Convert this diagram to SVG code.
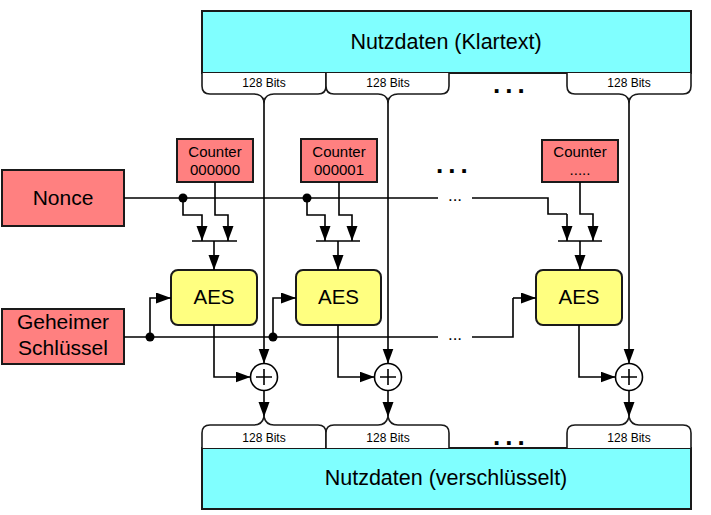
<svg xmlns="http://www.w3.org/2000/svg" width="711" height="515" viewBox="0 0 711 515">
<defs>
<marker id="ah" markerUnits="userSpaceOnUse" markerWidth="16" markerHeight="12" refX="15" refY="5.5" orient="auto">
<path d="M0,0 L15,5.5 L0,11 z" fill="#000"/>
</marker>
<style>
text{font-family:"Liberation Sans",Arial,sans-serif;fill:#000}
.box{stroke:#1a1a1a;stroke-width:2}
.cyan{fill:#80ffff}
.red{fill:#ff8080}
.yel{fill:#ffff80}
.brace{fill:#fff;stroke:#1a1a1a;stroke-width:1.6}
.ln{fill:none;stroke:#000;stroke-width:1.6}
.ar{fill:none;stroke:#000;stroke-width:1.6;marker-end:url(#ah)}
.bits{font-size:12px;text-anchor:middle}
.big{font-size:26px;font-weight:bold;letter-spacing:5px}
.sm{font-size:15px}
.c{text-anchor:middle}
</style>
</defs>

<g id="plaintext">
<rect class="box cyan" x="202" y="11" width="489" height="62"/>
<text x="446" y="49" font-size="21.5" class="c">Nutzdaten (Klartext)</text>
</g>
<g id="plain-bits">
<path class="brace" d="M202,73 V86 Q202,94 210,94 H254 Q262,94 264,101 Q266,94 274,94 H318 Q326,94 326,86 V73"/>
<path class="brace" d="M326,73 V86 Q326,94 334,94 H378 Q386,94 388,101 Q390,94 398,94 H441 Q449,94 449,86 V73"/>
<path class="brace" d="M567,73 V86 Q567,94 575,94 H619 Q627,94 629,101 Q631,94 639,94 H683 Q691,94 691,86 V73"/>
<text class="bits" x="264" y="87">128 Bits</text>
<text class="bits" x="388" y="87">128 Bits</text>
<text class="bits" x="629" y="87">128 Bits</text>
<text class="big" x="493" y="93">...</text>
</g>

<g id="ciphertext">
<rect class="box cyan" x="202" y="448" width="489" height="61"/>
<text x="446" y="485" font-size="21.5" class="c">Nutzdaten (verschlüsselt)</text>
</g>
<g id="cipher-bits">
<path class="brace" d="M202,448 V433 Q202,425 210,425 H254 Q262,425 264,417 Q266,425 274,425 H318 Q326,425 326,433 V448"/>
<path class="brace" d="M326,448 V433 Q326,425 334,425 H378 Q386,425 388,417 Q390,425 398,425 H441 Q449,425 449,433 V448"/>
<path class="brace" d="M567,448 V433 Q567,425 575,425 H619 Q627,425 629,417 Q631,425 639,425 H683 Q691,425 691,433 V448"/>
<text class="bits" x="264" y="442">128 Bits</text>
<text class="bits" x="388" y="442">128 Bits</text>
<text class="bits" x="629" y="442">128 Bits</text>
<text class="big" x="493" y="445">...</text>
</g>

<g id="nonce">
<rect class="box red" x="2" y="170" width="122" height="56"/>
<text x="63" y="205" font-size="21" class="c">Nonce</text>
</g>
<g id="key">
<rect class="box red" x="2" y="309" width="122" height="55"/>
<text x="63" y="329" font-size="21" class="c">Geheimer</text>
<text x="63" y="355" font-size="21" class="c">Schlüssel</text>
</g>

<g id="counter0">
<rect class="box red" x="177" y="139" width="76" height="43"/>
<text x="215" y="157" class="sm c">Counter</text>
<text x="215" y="175" class="sm c">000000</text>
</g>
<g id="counter1">
<rect class="box red" x="301" y="139" width="76" height="43"/>
<text x="339" y="157" class="sm c">Counter</text>
<text x="339" y="175" class="sm c">000001</text>
</g>
<g id="counterN">
<rect class="box red" x="542" y="140" width="76" height="42"/>
<text x="580" y="157" class="sm c">Counter</text>
<text x="580" y="175" class="sm c">.....</text>
</g>
<text class="big" x="436" y="173">...</text>

<g id="aes0">
<rect class="box yel" x="171" y="270" width="86" height="55" rx="7"/>
<text x="214" y="304" font-size="20.5" class="c">AES</text>
</g>
<g id="aes1">
<rect class="box yel" x="296" y="270" width="85" height="55" rx="7"/>
<text x="338.5" y="304" font-size="20.5" class="c">AES</text>
</g>
<g id="aesN">
<rect class="box yel" x="536" y="270" width="86" height="55" rx="7"/>
<text x="579" y="304" font-size="20.5" class="c">AES</text>
</g>

<g id="xor0">
<circle cx="264" cy="377" r="13.5" fill="#fff" stroke="#000" stroke-width="1.6"/>
<path class="ln" d="M256,377 H272 M264,369 V385" stroke-width="2.2"/>
</g>
<g id="xor1">
<circle cx="388" cy="377" r="13.5" fill="#fff" stroke="#000" stroke-width="1.6"/>
<path class="ln" d="M380,377 H396 M388,369 V385" stroke-width="2.2"/>
</g>
<g id="xorN">
<circle cx="629" cy="377" r="13.5" fill="#fff" stroke="#000" stroke-width="1.6"/>
<path class="ln" d="M621,377 H637 M629,369 V385" stroke-width="2.2"/>
</g>

<g id="connectors">
<path class="ln" d="M124,198 H438 M472,198 H548 V214 H567"/>
<text x="455" y="201" font-size="17" class="c">...</text>
<circle cx="183" cy="198" r="4.5"/>
<circle cx="307" cy="198" r="4.5"/>
<path class="ln" d="M124,337 H438 M472,337 H513 V298"/>
<text x="455" y="340" font-size="17" class="c">...</text>
<circle cx="150" cy="337" r="4.5"/>
<circle cx="273" cy="337" r="4.5"/>

<path class="ar" d="M183,198 V215 H202 V241"/>
<path class="ar" d="M215,182 V215 H228 V241"/>
<path class="ln" d="M192,241 H237"/>
<path class="ar" d="M214,241 V270"/>
<path class="ar" d="M150,337 V298 H171"/>
<path class="ar" d="M214,325 V377 H250.5"/>
<path class="ar" d="M264,101 V363.5"/>
<path class="ar" d="M264,390.5 V417"/>

<path class="ar" d="M307,198 V215 H325 V241"/>
<path class="ar" d="M339,182 V215 H352 V241"/>
<path class="ln" d="M316,241 H360"/>
<path class="ar" d="M338,241 V270"/>
<path class="ar" d="M273,337 V298 H296"/>
<path class="ar" d="M338,325 V377 H374.5"/>
<path class="ar" d="M388,101 V363.5"/>
<path class="ar" d="M388,390.5 V417"/>

<path class="ar" d="M567,214 V241"/>
<path class="ar" d="M580,182 V214 H593 V241"/>
<path class="ln" d="M558,241 H602"/>
<path class="ar" d="M580,241 V270"/>
<path class="ar" d="M513,298 H536"/>
<path class="ar" d="M579,325 V377 H615.5"/>
<path class="ar" d="M629,101 V363.5"/>
<path class="ar" d="M629,390.5 V417"/>
</g>
</svg>
